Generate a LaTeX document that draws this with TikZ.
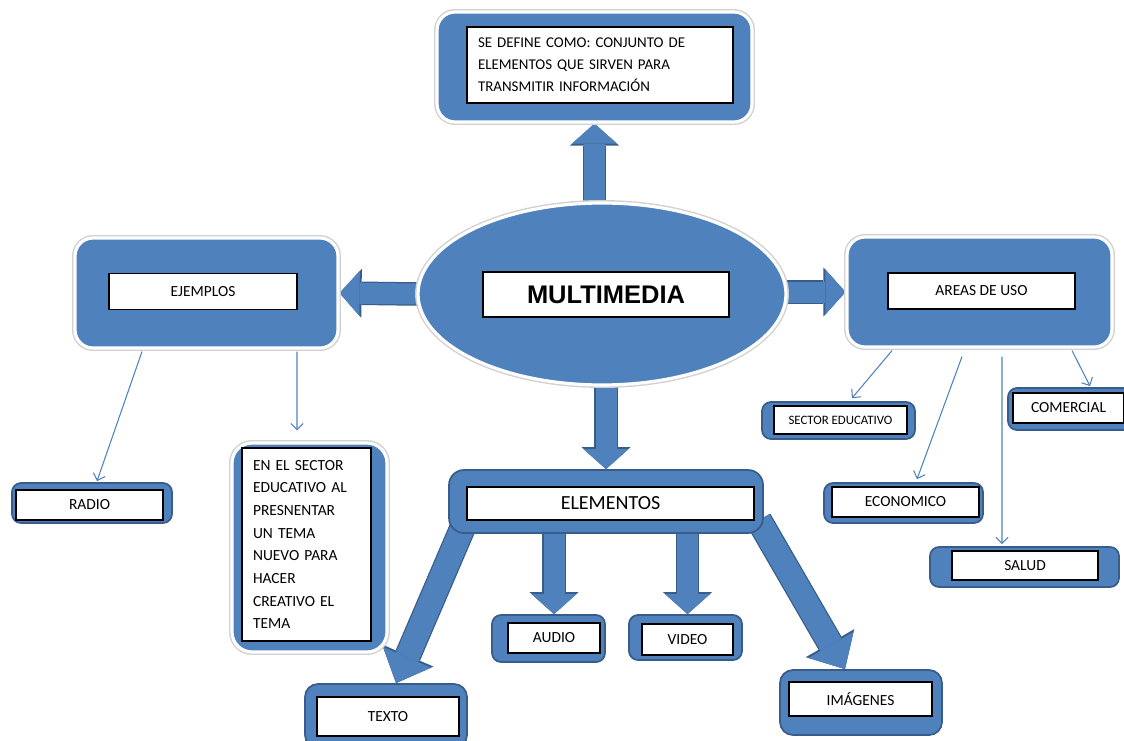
\documentclass[tikz,border=0pt]{standalone}
\usepackage{fontspec}
\setmainfont{Carlito}
\newfontfamily\titlefont{Liberation Sans}
\usepackage{xcolor}
\usepackage{tikz}
\usetikzlibrary{shapes,arrows.meta,positioning,calc,backgrounds}

\definecolor{mmblue}{RGB}{79,129,189}
\definecolor{mmedge}{RGB}{56,93,138}

\begin{document}
\begin{tikzpicture}[
        x=0.02cm, y=-0.02cm,
        bigbox/.style={rectangle, rounded corners=0.36cm, fill=mmblue, draw=white, line width=1.8pt, inner sep=0pt, preaction={draw=black!18, line width=3.4pt}},
        smallbox/.style={rectangle, rounded corners=0.18cm, fill=mmblue, draw=mmedge, line width=1pt, inner sep=0pt},
        textbox/.style={rectangle, fill=white, draw=black, line width=0.8pt, inner sep=0pt, align=center, font=\fontsize{8.8}{10}\selectfont},
        bigarrow/.style={draw=mmblue, line width=0.42cm, shorten <=-0.2cm, -{Triangle[width=0.9cm,length=0.4cm,line width=0pt]}, preaction={draw=mmedge, line width=0.47cm, -{Triangle[width=0.98cm,length=0.44cm,line width=0pt]}}},
        widearrow/.style={draw=mmblue, line width=0.48cm, shorten <=-0.2cm, -{Triangle[width=1.04cm,length=0.56cm,line width=0pt]}, preaction={draw=mmedge, line width=0.53cm, -{Triangle[width=1.12cm,length=0.6cm,line width=0pt]}}},
        thinarrow/.style={draw=mmblue, line width=0.6pt, -{Straight Barb[length=3.5pt,width=7pt]}}
    ]
        \path[use as bounding box] (0,0) rectangle (1124,740);

        % Central topic
        \node[bigbox, ellipse, minimum width=7.36cm, minimum height=3.64cm] (multi) at (602,294) {};
        \node[textbox, minimum width=4.92cm, minimum height=0.9cm, font=\titlefont\bfseries\fontsize{14.5}{16}\selectfont] (multi-t) at (606,294.5) {MULTIMEDIA};

        % Definition
        \node[bigbox, minimum width=6.3cm, minimum height=2.2cm] (def) at (594.5,67) {};
        \node[textbox, minimum width=5.32cm, minimum height=1.52cm, text width=4.88cm, inner xsep=0.22cm, align=left, font=\fontsize{8.5}{12.5}\selectfont] (def-t) at (600,65) {SE DEFINE COMO: CONJUNTO DE\\ELEMENTOS QUE SIRVEN PARA\\TRANSMITIR INFORMACIÓN};

        % Examples
        \node[bigbox, minimum width=5.26cm, minimum height=2.2cm] (ejemplos) at (206.5,293) {};
        \node[textbox, minimum width=3.76cm, minimum height=0.72cm] (ejemplos-t) at (203,291.5) {EJEMPLOS};

        \node[smallbox, minimum width=3.2cm, minimum height=0.8cm] (radio) at (92,503) {};
        \node[textbox, minimum width=2.94cm, minimum height=0.6cm] (radio-t) at (89.5,505) {RADIO};

        \node[bigbox, rounded corners=0.4cm, minimum width=3.1cm, minimum height=4.18cm] (ensector) at (309.5,547.5) {};
        \node[textbox, minimum width=2.58cm, minimum height=3.86cm, text width=2.14cm, inner xsep=0.22cm, align=left, font=\fontsize{8.8}{12.9}\selectfont] (ensector-t) at (306.5,544.5) {EN EL SECTOR\\EDUCATIVO AL\\PRESNENTAR\\UN TEMA\\NUEVO PARA\\HACER\\CREATIVO EL\\TEMA};

        % Areas of use
        \node[bigbox, minimum width=5.3cm, minimum height=2.2cm] (areas) at (979.5,292) {};
        \node[textbox, minimum width=3.74cm, minimum height=0.72cm] (areas-t) at (981.5,291) {AREAS DE USO};

        \node[smallbox, minimum width=3.06cm, minimum height=0.74cm] (sector) at (838.5,420.5) {};
        \node[textbox, minimum width=2.66cm, minimum height=0.56cm, font=\fontsize{7.3}{9}\selectfont] (sector-t) at (840.5,420) {SECTOR EDUCATIVO};

        \node[smallbox, minimum width=2.48cm, minimum height=0.84cm] (comercial) at (1070,409) {};
        \node[textbox, minimum width=2.22cm, minimum height=0.6cm] (comercial-t) at (1068.5,408) {COMERCIAL};

        \node[smallbox, minimum width=3.18cm, minimum height=0.8cm] (economico) at (903.5,503) {};
        \node[textbox, minimum width=2.94cm, minimum height=0.6cm] (economico-t) at (905.5,502) {ECONOMICO};

        \node[smallbox, minimum width=3.78cm, minimum height=0.8cm] (salud) at (1024.5,567) {};
        \node[textbox, minimum width=2.92cm, minimum height=0.58cm] (salud-t) at (1025,565.5) {SALUD};

        % Elements
        \node[smallbox, rounded corners=0.3cm, minimum width=6.28cm, minimum height=1.26cm] (elem) at (606,501.5) {};
        \node[textbox, minimum width=5.74cm, minimum height=0.66cm, font=\fontsize{11.4}{13}\selectfont] (elem-t) at (610.5,503.5) {ELEMENTOS};

        \node[smallbox, minimum width=2.26cm, minimum height=0.94cm] (audio) at (548.5,638.5) {};
        \node[textbox, minimum width=1.84cm, minimum height=0.6cm] (audio-t) at (554,638) {AUDIO};

        \node[smallbox, minimum width=2.26cm, minimum height=0.9cm] (video) at (685.5,637.5) {};
        \node[textbox, minimum width=1.82cm, minimum height=0.62cm] (video-t) at (687.5,639.5) {VIDEO};

        \node[smallbox, rounded corners=0.26cm, minimum width=3.24cm, minimum height=1.28cm] (texto) at (386,716) {};
        \node[textbox, minimum width=2.84cm, minimum height=0.78cm] (texto-t) at (388,716.5) {TEXTO};

        \node[smallbox, rounded corners=0.26cm, minimum width=3.24cm, minimum height=1.3cm] (imagenes) at (861,702.5) {};
        \node[textbox, minimum width=2.86cm, minimum height=0.68cm] (imagenes-t) at (860.5,699) {IMÁGENES};

        % Block arrows
        \begin{scope}[on background layer]
            \draw[bigarrow] (multi.north -| def.south) -- (def.south);
            \draw[bigarrow] (multi.west) -- (ejemplos.east);
            \draw[bigarrow] (multi.east |- areas.west) -- (areas.west);
            \draw[bigarrow] (multi.south -| elem.north) -- (elem.north);
            \draw[bigarrow] (elem.south -| audio-t.north) -- (audio.north -| audio-t.north);
            \draw[bigarrow] (elem.south -| video-t.north) -- (video.north -| video-t.north);
            \draw[widearrow] ($(elem.south west)+(14,-5)$) -- ($(texto.north)+(10,0)$);
            \draw[widearrow] ($(elem.south east)+(0,-5)$) -- ($(imagenes.north)+(-16,0)$);
        \end{scope}

        % Thin connectors
        \draw[thinarrow] ($(ejemplos.south)+(-64.5,2)$) -- ($(radio.north)+(5,-1)$);
        \draw[thinarrow] ($(ejemplos.south)+(90.5,2)$) -- ($(ensector.north)+(-12.5,-11)$);
        \draw[thinarrow] ($(areas.south)+(-87.5,2)$) -- ($(sector.north)+(13.5,-3)$);
        \draw[thinarrow] ($(areas.south)+(-17.5,8)$) -- ($(economico.north)+(13.5,-3)$);
        \draw[thinarrow] ($(areas.south)+(22.5,8)$) -- ($(salud.north)+(-22.5,-2)$);
        \draw[thinarrow] ($(areas.south)+(92.5,2)$) -- ($(comercial.north)+(20,-1)$);
    \end{tikzpicture}
\end{document}
